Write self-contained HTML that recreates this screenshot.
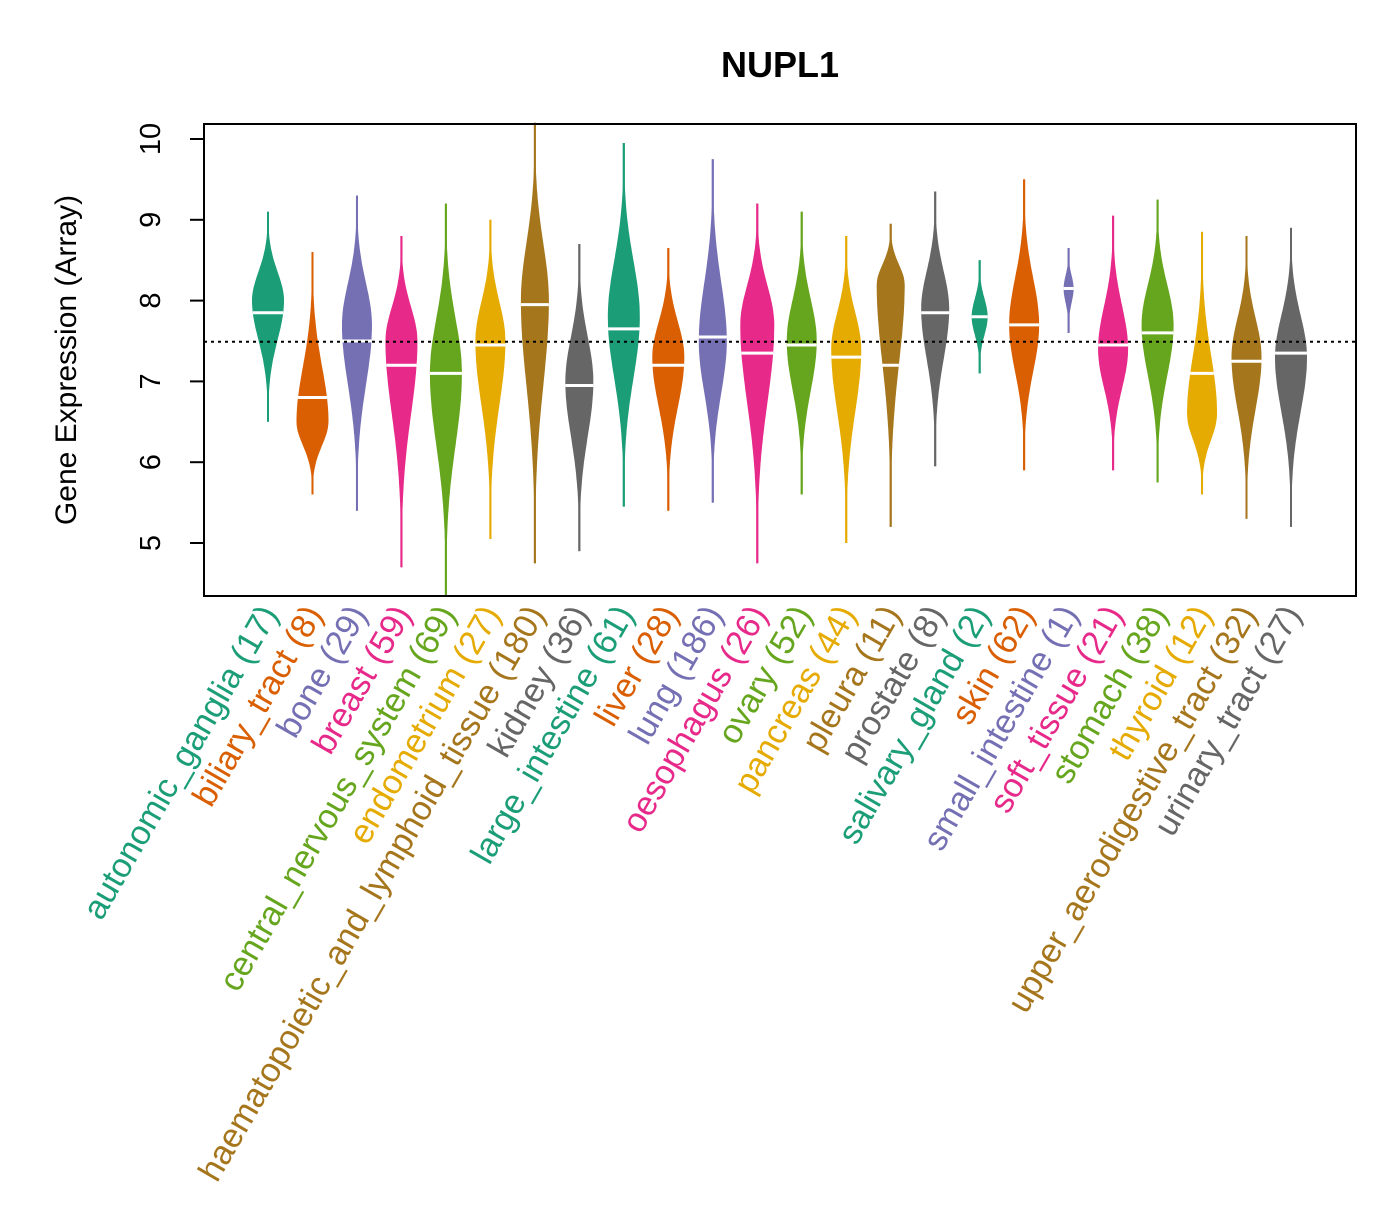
<!DOCTYPE html>
<html><head><meta charset="utf-8"><style>
body{margin:0;background:#fff}
svg text{font-family:"Liberation Sans",sans-serif}
</style></head><body>
<svg id="chart" width="1400" height="1200" viewBox="0 0 1400 1200" xmlns="http://www.w3.org/2000/svg">
<rect width="1400" height="1200" fill="#fff"/>
<text x="780" y="77" font-size="36" font-weight="bold" text-anchor="middle">NUPL1</text>
<text transform="translate(76,360) rotate(-90)" font-size="30" text-anchor="middle">Gene Expression (Array)</text>
<g id="plot"></g>
<rect x="204" y="124" width="1152" height="472" fill="none" stroke="#000" stroke-width="2"/>
</svg>
<script>
const categories=["autonomic_ganglia","biliary_tract","bone","breast","central_nervous_system","endometrium","haematopoietic_and_lymphoid_tissue","kidney","large_intestine","liver","lung","oesophagus","ovary","pancreas","pleura","prostate","salivary_gland","skin","small_intestine","soft_tissue","stomach","thyroid","upper_aerodigestive_tract","urinary_tract"];
const counts=[17,8,29,59,69,27,180,36,61,28,186,26,52,44,11,8,2,62,1,21,38,12,32,27];
const mins=[6.5,5.6,5.4,4.7,4.35,5.05,4.75,4.9,5.45,5.4,5.5,4.75,5.6,5.0,5.2,5.95,7.1,5.9,7.6,5.9,5.75,5.6,5.3,5.2];
const maxs=[9.1,8.6,9.3,8.8,9.2,9.0,10.2,8.7,9.95,8.65,9.75,9.2,9.1,8.8,8.95,9.35,8.5,9.5,8.65,9.05,9.25,8.85,8.8,8.9];
const medians=[7.85,6.8,7.5,7.2,7.1,7.45,7.95,6.95,7.65,7.2,7.55,7.35,7.45,7.3,7.2,7.85,7.8,7.7,8.15,7.45,7.6,7.1,7.25,7.35];
const modes=[8.0,6.5,7.7,7.5,7.1,7.5,8.0,7.0,7.8,7.3,7.5,7.7,7.5,7.4,8.2,7.9,7.8,7.7,8.15,7.4,7.7,6.6,7.3,7.3];
const widths=[16,16,15,16,16,15,14,14,16,16,14,17,15,15,14,14,8,15,5,15,16,15,15,16];
const yTicks=[5,6,7,8,9,10];
const refLine=7.49;
const colors=["#1B9E77","#D95F02","#7570B3","#E7298A","#66A61E","#E6AB02","#A6761D","#666666"];
const ns="http://www.w3.org/2000/svg";
const svg=document.getElementById('chart'),plot=document.getElementById('plot');
const y=v=>543-(v-5)*80.8;
const x=i=>268+i*(1291-268)/(categories.length-1);
function mk(t,a){const e=document.createElementNS(ns,t);for(const k in a)e.setAttribute(k,a[k]);return e;}
yTicks.forEach(t=>{
 const l=mk('line',{x1:190,x2:204,y1:y(t),y2:y(t),stroke:'#000','stroke-width':2});
 
 
 svg.appendChild(l);
 const tx=mk('text',{transform:`translate(160,${y(t)}) rotate(-90)`,'font-size':29,'text-anchor':'middle'});
 tx.textContent=t;
 
 
 svg.appendChild(tx);
});
categories.forEach((c,i)=>{
 const col=colors[i%8],cx=x(i),mn=mins[i],mx=maxs[i],md=modes[i],w=widths[i];
 const sb=(md-mn)/2.2,sa=(mx-md)/2.2;
 const f=v=>{const s=v<md?sb:sa;const z=(v-md)/s;return Math.max(1,w*Math.exp(-z*z));};
 let L=[],R=[];const N=80;
 for(let k=0;k<=N;k++){const v=mn+(mx-mn)*k/N;const hw=f(v);L.push([cx-hw,y(v)]);R.push([cx+hw,y(v)]);}
 const pts=L.concat(R.reverse()).map(p=>p[0].toFixed(1)+','+p[1].toFixed(1)).join(' ');
 const line=mk('line',{x1:cx,x2:cx,y1:y(mn),y2:y(mx),stroke:col,'stroke-width':2});
 
 
 plot.appendChild(line);
 const p=mk('polygon',{points:pts,fill:col});
 
 
 plot.appendChild(p);
 const m=mk('line',{x1:cx-f(medians[i]),x2:cx+f(medians[i]),y1:y(medians[i]),y2:y(medians[i]),stroke:'#fff','stroke-width':3});
 
 
 plot.appendChild(m);
 const t=mk('text',{transform:`translate(${cx+11},${614}) rotate(-60)`,'font-size':34,'text-anchor':'end',fill:col});
 t.textContent=c+' ('+counts[i]+')';
 
 
 svg.appendChild(t);
});
const r=mk('line',{x1:204,x2:1356,y1:y(refLine),y2:y(refLine),stroke:'#000','stroke-width':2,'stroke-dasharray':'3,4'});


plot.appendChild(r);
</script>
</body></html>
